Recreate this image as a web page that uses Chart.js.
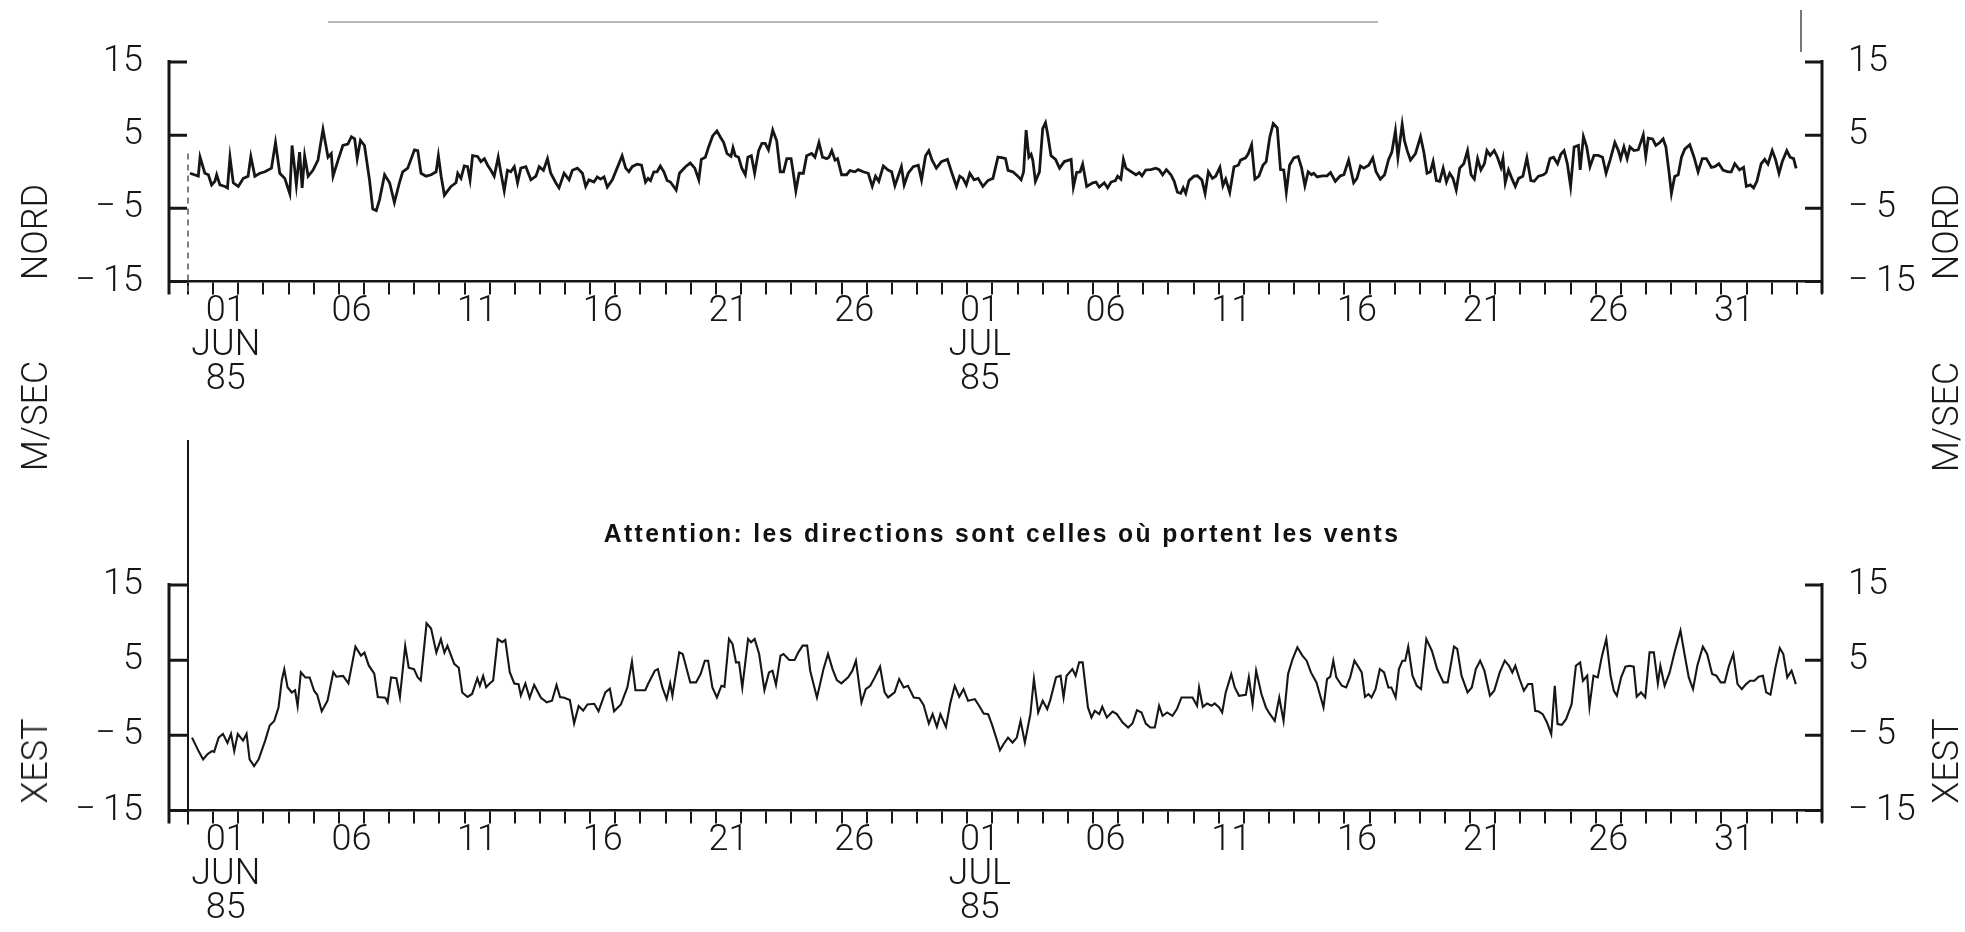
<!DOCTYPE html>
<html>
<head>
<meta charset="utf-8">
<title>NORD / XEST M/SEC</title>
<script src="https://cdn.jsdelivr.net/npm/chart.js@4.4.1/dist/chart.umd.min.js"></script>
<style>
  html, body { margin: 0; padding: 0; background: #fff; }
  body { width: 1965px; height: 932px; position: relative; overflow: hidden; font-family: Roboto, "Liberation Sans", sans-serif; }
  canvas { position: absolute; left: 0; }
  #nordChart { top: 0; }
  #xestChart { top: 440px; }
  .side { position: absolute; font-size: 36px; font-weight: 300; color: #1a1a1a; transform: translate(-50%, -50%) rotate(-90deg); white-space: nowrap; }
  .note { position: absolute; left: 1002px; top: 533px; transform: translate(-50%, -50%) scaleX(0.95); font: bold 26px "Liberation Sans", Arial, sans-serif; letter-spacing: 2.5px; white-space: nowrap; color: #111; z-index: 2; }
  .scan { position: absolute; background: #b8b8b8; }
</style>
</head>
<body>
<canvas id="nordChart" width="1965" height="440"></canvas>
<canvas id="xestChart" width="1965" height="492"></canvas>

<div class="side" style="left:35px;top:232px">NORD</div>
<div class="side" style="left:35px;top:416px">M/SEC</div>
<div class="side" style="left:35px;top:761px">XEST</div>
<div class="side" style="left:1946px;top:232px">NORD</div>
<div class="side" style="left:1946px;top:417px">M/SEC</div>
<div class="side" style="left:1946px;top:761px">XEST</div>
<div class="note">Attention: les directions sont celles où portent les vents</div>
<div class="scan" style="left:328px;top:21px;width:1050px;height:2px"></div>
<div class="scan" style="left:1800px;top:10px;width:2px;height:42px;background:#777"></div>

<script>
// x = days after 31 May 1985 00:00, y = m/s
const dayRange = [0, 65];
const yRange = [-15, 15];
const yTicks = [-15, -5, 5, 15];
const labelDays = [1, 6, 11, 16, 21, 26, 31, 36, 41, 46, 51, 56, 61];
const dayLabels = ['01', '06', '11', '16', '21', '26', '01', '06', '11', '16', '21', '26', '31'];
const monthLabels = ['JUN', '', '', '', '', '', 'JUL', '', '', '', '', '', ''];
const yearLabel = '85';

const nordObs = [
  [0.08,-0.2],[0.41,-0.6],[0.48,2.0],[0.67,-0.2],[0.81,-0.4],[0.94,-1.8],[1.07,-1.3],[1.14,-0.4],[1.27,-1.8],[1.47,-2.0],
  [1.57,-2.2],[1.67,2.0],[1.8,-1.5],[2.0,-2.0],[2.2,-0.9],[2.39,-0.6],[2.5,2.1],[2.66,-0.6],[2.86,-0.2],[3.06,0.0],
  [3.32,0.5],[3.48,4.0],[3.65,-0.2],[3.85,-0.9],[4.05,-3.0],[4.14,3.6],[4.25,0.2],[4.31,-1.8],[4.44,2.7],[4.54,-2.2],
  [4.64,2.2],[4.78,-0.6],[4.97,0.2],[5.17,1.6],[5.37,5.8],[5.57,2.0],[5.7,2.5],[5.77,-0.6],[5.97,1.6],[6.16,3.6],
  [6.36,3.8],[6.5,4.8],[6.63,4.5],[6.73,1.8],[6.86,4.3],[7.02,3.6],[7.22,-1.1],[7.35,-5.1],[7.49,-5.3],[7.62,-3.8],
  [7.82,-0.4],[8.02,-1.5],[8.21,-4.2],[8.41,-1.5],[8.54,0.0],[8.74,0.5],[9.01,3.0],[9.14,2.9],[9.27,-0.2],[9.47,-0.6],
  [9.67,-0.4],[9.87,0.0],[9.96,2.2],[10.07,-0.6],[10.2,-3.2],[10.46,-2.0],[10.66,-1.5],[10.73,-0.2],[10.86,-0.9],[10.99,0.8],
  [11.12,0.7],[11.22,-1.1],[11.32,2.2],[11.52,2.1],[11.65,1.4],[11.79,1.8],[11.92,0.9],[12.05,0.2],[12.18,-0.6],[12.34,2.0],
  [12.45,-0.2],[12.58,-2.6],[12.71,0.2],[12.84,0.0],[12.98,0.7],[13.11,-1.5],[13.24,0.5],[13.44,0.7],[13.64,-1.1],[13.84,-0.6],
  [13.97,0.7],[14.14,0.2],[14.3,1.8],[14.43,-0.2],[14.63,-1.5],[14.76,-2.2],[14.96,-0.2],[15.16,-1.1],[15.29,0.2],[15.49,0.5],
  [15.69,-0.2],[15.82,-2.0],[15.95,-1.1],
  [16.15,-1.4],[16.28,-0.7],[16.41,-1.0],[16.55,-0.7],[16.68,-2.1],[16.88,-1.1],[17.07,0.5],[17.27,2.2],[17.41,0.5],[17.54,0.0],
  [17.67,0.7],[17.87,1.05],[18.04,0.9],[18.2,-1.4],[18.3,-0.9],[18.4,-1.2],[18.53,0.0],[18.66,0.0],[18.79,0.8],[18.93,0.0],
  [19.06,-1.2],[19.19,-1.4],[19.42,-2.5],[19.55,-0.2],[19.79,0.7],[19.98,1.2],[20.16,0.5],[20.32,-1.1],[20.42,1.7],[20.58,2.0],
  [20.71,3.4],[20.87,4.9],[21.04,5.6],[21.17,4.8],[21.31,4.0],[21.44,2.5],[21.6,2.1],[21.68,3.3],[21.77,2.2],[21.9,2.0],
  [22.03,0.5],[22.17,-0.4],[22.27,2.0],[22.41,2.2],[22.54,-0.2],[22.7,2.9],[22.83,3.9],[22.96,3.9],[23.09,3.0],[23.26,5.7],
  [23.42,4.2],[23.56,0.0],[23.69,0.0],[23.82,1.8],[23.99,1.8],[24.08,-0.2],[24.18,-2.6],[24.31,-0.2],[24.48,-0.2],[24.61,2.2],
  [24.81,2.5],[24.94,2.0],[25.1,4.0],[25.24,2.0],[25.41,1.8],[25.5,2.0],[25.61,2.9],[25.74,1.6],[25.84,1.8],[26.0,-0.4],
  [26.2,-0.4],[26.33,0.16],[26.53,0.0],[26.66,0.3],[26.86,0.0],[27.06,-0.2],[27.22,-2.0],[27.35,-0.6],[27.48,-1.3],[27.66,0.8],
  [27.85,0.25],[27.99,0.0],[28.12,-1.9],[28.25,-0.6],[28.38,0.7],[28.49,-1.8],[28.65,-0.2],[28.85,0.7],[29.05,0.9],[29.18,-1.1],
  [29.34,2.2],[29.47,2.9],[29.6,1.6],[29.77,0.5],[29.97,1.4],[30.21,1.7],[30.37,0.0],[30.57,-2.0],[30.7,-0.6],[30.83,-0.9],
  [30.96,-1.8],[31.1,-0.2],[31.27,-1.1],[31.43,-0.9],[31.62,-2.0],[31.82,-1.2],
  [32.02,-0.9],[32.22,2.0],[32.42,1.9],[32.52,1.8],[32.62,0.2],[32.81,0.0],[33.01,-0.6],[33.14,-1.1],[33.24,0.0],[33.34,5.7],
  [33.45,2.0],[33.54,2.4],[33.61,1.5],[33.71,-1.3],[33.87,0.0],[34.0,5.9],[34.11,6.7],[34.2,5.1],[34.33,2.2],[34.51,1.7],
  [34.67,0.5],[34.86,1.4],[35.04,1.6],[35.13,1.7],[35.22,-2.1],[35.35,-0.1],[35.49,0.0],[35.59,1.05],[35.75,-2.0],[35.99,-1.5],
  [36.12,-1.4],[36.25,-2.1],[36.45,-1.5],[36.58,-2.2],[36.72,-1.4],[36.89,-1.2],[36.98,-0.6],[37.11,-1.0],[37.21,1.7],[37.31,0.5],
  [37.44,0.2],[37.71,-0.4],[37.84,-0.1],[37.95,-0.55],[38.1,0.25],[38.3,0.3],[38.5,0.5],[38.63,0.3],[38.77,-0.4],[38.92,0.3],
  [39.1,-0.4],[39.23,-1.3],[39.36,-2.8],[39.49,-2.95],[39.59,-2.2],[39.69,-2.95],[39.82,-1.2],[40.02,-0.6],[40.15,-0.55],[40.33,-1.1],
  [40.46,-2.95],[40.59,0.0],[40.75,-0.9],[40.88,-0.6],[41.05,0.6],[41.17,-1.9],[41.28,-1.0],[41.44,-2.8],[41.61,0.7],[41.78,0.9],
  [41.87,1.6],[42.07,1.9],[42.18,2.5],[42.31,3.7],[42.44,-1.0],[42.6,-0.6],[42.76,0.9],[42.89,1.4],[43.03,4.7],[43.17,6.6],
  [43.33,6.0],[43.46,0.3],[43.59,0.25],[43.69,-2.8],[43.82,0.9],[43.99,1.9],[44.16,2.1],[44.3,0.5],[44.43,-1.9],[44.56,0.0],
  [44.69,-0.4],[44.78,-0.2],[44.92,-0.7],[45.12,-0.55],[45.31,-0.55],[45.45,-0.1],[45.64,-1.3],[45.84,-0.55],[45.98,-0.4],[46.17,1.6],
  [46.37,-1.5],[46.5,-0.9],[46.64,0.8],[46.77,0.5],[46.97,0.9],[47.13,1.9],[47.26,0.0],[47.43,-1.0],[47.6,-0.4],[47.76,1.7],
  [47.89,2.7],[48.03,5.6],[48.13,2.0],
  [48.3,6.5],[48.39,4.25],[48.5,2.9],[48.63,1.6],[48.83,2.5],[49.03,4.8],[49.16,2.7],[49.29,-0.2],[49.42,0.0],[49.53,1.4],
  [49.66,-1.2],[49.79,-1.3],[49.93,0.5],[50.06,-1.4],[50.19,-0.2],[50.32,-0.9],[50.45,-2.5],[50.59,0.5],[50.75,1.1],[50.9,2.9],
  [51.04,-0.4],[51.17,-1.0],[51.3,1.8],[51.43,0.25],[51.57,1.1],[51.67,2.9],[51.8,2.25],[51.96,2.9],[52.09,2.0],[52.23,0.6],
  [52.31,1.8],[52.4,-1.5],[52.53,0.25],[52.66,-0.9],[52.8,-2.0],[52.93,-0.9],[53.1,-0.6],[53.26,1.9],[53.42,-1.2],[53.55,-1.3],
  [53.72,-0.6],[53.92,-0.4],[54.03,-0.1],[54.18,1.8],[54.32,2.0],[54.48,1.1],[54.61,2.4],[54.74,2.9],[54.87,1.1],[55.0,-2.0],
  [55.14,3.4],[55.31,3.6],[55.38,0.25],[55.51,4.8],[55.64,3.4],[55.77,0.7],[55.93,2.25],[56.1,2.25],[56.27,2.0],[56.41,-0.2],
  [56.57,1.6],[56.76,4.0],[56.9,2.9],[56.99,1.8],[57.12,3.4],[57.25,1.8],[57.36,3.4],[57.52,2.9],[57.69,3.0],[57.89,5.05],
  [57.99,2.1],[58.09,4.6],[58.26,4.5],[58.39,3.6],[58.55,4.0],[58.68,4.5],[58.79,3.4],[58.92,-0.2],[59.01,-2.95],[59.14,-0.64],
  [59.28,-0.42],[59.41,2.0],[59.54,3.1],[59.74,3.7],[59.91,2.0],[60.07,0.0],[60.24,1.8],[60.4,1.8],[60.6,0.6],[60.73,0.7],
  [60.9,1.1],[61.06,0.25],[61.26,0.0],[61.39,0.0],[61.53,1.1],[61.72,0.25],[61.88,0.6],[61.99,-2.0],[62.15,-1.8],[62.28,-2.2],
  [62.41,-1.3],[62.58,1.1],[62.72,1.7],[62.85,1.05],[63.02,2.9],[63.15,1.7],[63.29,-0.2],[63.42,1.4],[63.6,2.9],[63.73,2.0],
  [63.87,1.8],[63.97,0.47]
];

const xestObs = [
  [0.16,-5.3],[0.42,-7.1],[0.6,-8.2],[0.78,-7.5],[0.95,-7.1],[1.04,-7.2],[1.22,-5.3],[1.39,-4.8],[1.57,-6.0],[1.71,-4.8],
  [1.84,-7.1],[1.98,-4.8],[2.19,-5.7],[2.33,-4.8],[2.45,-8.2],[2.63,-9.1],[2.81,-8.2],[3.07,-5.7],[3.25,-3.7],[3.43,-3.1],
  [3.6,-1.3],[3.73,2.3],[3.83,3.8],[3.96,1.4],[4.13,0.7],[4.26,1.0],[4.36,-1.1],[4.49,3.4],[4.67,2.7],[4.84,2.7],
  [5.02,0.9],[5.14,0.4],[5.32,-1.8],[5.55,-0.4],[5.78,3.4],[5.9,2.8],[6.17,2.9],[6.38,1.9],[6.66,6.8],[6.88,5.6],
  [7.02,6.0],[7.19,4.3],[7.41,3.2],[7.55,0.1],[7.85,0.0],[7.94,-0.6],[8.08,2.7],[8.29,2.6],[8.43,0.1],[8.64,6.9],
  [8.78,4.0],[8.99,3.8],[9.14,2.7],[9.26,2.3],[9.49,9.9],[9.67,9.2],[9.88,6.0],[10.06,7.8],[10.2,6.0],[10.32,6.9],
  [10.59,4.5],[10.77,4.0],[10.91,0.7],[11.12,0.1],[11.3,0.5],[11.51,2.6],[11.61,1.6],[11.74,2.9],[11.86,1.4],[12.0,1.9],
  [12.14,2.3],[12.32,7.8],[12.5,7.4],[12.62,7.7],[12.8,3.4],[12.98,1.9],[13.15,1.8],[13.24,0.3],[13.42,1.9],[13.59,0.0],
  [13.77,1.7],[14.04,0.0],[14.27,-0.6],[14.48,-0.4],[14.66,1.7],[14.8,0.1],[14.97,0.0],[15.19,-0.3],[15.36,-3.4],[15.54,-1.1],
  [15.72,-1.7],[15.89,-0.9],[16.16,-0.8],[16.33,-1.8],[16.6,0.7],[16.78,1.2],[16.95,-1.8],[17.22,-0.9],[17.48,1.4],[17.66,4.8],
  [17.8,1.0],[18.19,1.0],
  [18.3,1.82],[18.57,3.6],[18.69,3.82],[18.87,1.37],[19.04,-0.18],[19.18,1.91],[19.27,0.26],[19.54,6.04],[19.68,5.82],[19.98,2.04],
  [20.21,2.04],[20.39,3.15],[20.56,4.93],[20.69,4.93],[20.86,1.37],[21.04,0.04],[21.22,1.6],[21.34,1.46],[21.52,7.82],[21.66,7.15],
  [21.8,4.71],[21.92,4.71],[22.05,1.37],[22.28,7.82],[22.4,7.37],[22.54,7.82],[22.72,5.82],[22.93,1.02],[23.11,3.37],[23.25,3.6],
  [23.39,1.73],[23.57,5.6],[23.69,5.82],[23.92,5.02],[24.13,5.02],[24.28,6.04],[24.45,6.93],[24.63,6.93],[24.75,3.6],[25.02,0.04],
  [25.28,3.82],[25.46,5.82],[25.64,3.82],[25.81,2.35],[25.99,1.91],[26.26,2.71],[26.43,3.6],[26.57,4.93],[26.79,-0.63],[26.96,1.15],
  [27.14,1.6],[27.32,2.71],[27.53,4.13],[27.71,0.71],[27.85,0.04],[28.11,0.71],[28.29,2.49],[28.47,1.37],[28.64,1.6],[28.87,0.04],
  [29.09,-0.05],[29.26,-0.94],[29.47,-3.43],[29.62,-2.18],[29.79,-3.87],[29.93,-2.18],[30.15,-3.87],[30.32,-0.76],[30.5,1.6],[30.68,0.13],
  [30.85,1.15],[31.03,-0.4],[31.3,-0.18],[31.47,-1.07],[31.65,-2.09],[31.83,-2.18],[32.0,-3.74],[32.18,-5.65],[32.3,-6.98],[32.44,-6.18],
  [32.62,-5.3],[32.8,-5.96],[32.97,-5.3],[33.12,-3.07],[33.29,-5.96],[33.51,-2.18],[33.65,2.49],[33.82,-1.96],[34.0,-0.4],[34.18,-1.51],
  [34.3,-0.31],[34.53,2.71],[34.71,2.93],[34.83,0.04],[34.95,2.93],[35.18,3.82],[35.31,2.93],[35.45,4.71],[35.59,4.71],[35.8,-1.29],
  [35.94,-2.62],[36.07,-1.74],[36.25,-2.18],[36.37,-1.2],[36.55,-2.62],[36.78,-1.83],[36.95,-2.18],[37.18,-3.29],[37.4,-3.96],[37.57,-3.43],
  [37.75,-1.65],[37.93,-1.96],[38.1,-3.43],[38.28,-3.96],[38.46,-3.96],[38.63,-1.07],[38.77,-2.4],[38.95,-1.96],[39.16,-2.4],[39.34,-1.51],
  [39.52,0.04],[39.69,0.04],[39.96,0.04],[40.14,-1.07],[40.22,1.37],[40.37,-1.2],[40.54,-0.76],[40.72,-1.07],[40.84,-0.76],[41.02,-1.29],
  [41.14,-1.96],[41.28,0.71],[41.5,3.15],[41.64,1.37],[41.81,0.26],[42.08,0.4],[42.2,2.71],[42.35,-0.85],[42.49,3.6],[42.7,0.49],
  [42.88,-1.29],[43.02,-2.09],[43.23,-3.07],[43.41,0.04],[43.58,-3.07],[43.76,3.15],[43.94,5.15],
  [44.13,6.71],[44.33,5.6],[44.5,4.93],[44.67,3.37],[44.89,2.04],[45.06,0.04],[45.17,-1.29],[45.31,2.49],[45.44,2.8],[45.56,4.93],
  [45.68,2.71],[45.9,1.6],[46.07,1.37],[46.23,2.71],[46.4,4.93],[46.57,4.04],[46.69,3.37],[46.82,0.13],[46.96,0.49],[47.08,0.04],
  [47.24,1.15],[47.41,3.82],[47.58,3.37],[47.75,1.37],[47.87,1.37],[48.04,0.04],[48.17,3.82],[48.31,4.93],[48.42,4.93],[48.54,6.8],
  [48.71,2.93],[48.88,1.6],[49.05,1.15],[49.26,7.82],[49.48,6.26],[49.69,3.82],[49.94,2.04],[50.11,2.04],[50.36,6.8],[50.49,6.49],
  [50.66,2.93],[50.9,0.71],[51.07,1.37],[51.23,3.82],[51.4,4.93],[51.57,3.6],[51.79,0.26],[51.96,0.93],[52.18,3.37],[52.38,4.93],
  [52.55,4.26],[52.68,3.37],[52.8,4.26],[52.97,2.49],[53.14,0.93],[53.31,1.82],[53.47,1.82],[53.59,-1.74],[53.73,-1.83],[53.89,-2.18],
  [54.06,-3.29],[54.23,-4.85],[54.37,1.6],[54.48,-3.51],[54.65,-3.6],[54.82,-2.85],[55.04,-0.85],[55.21,4.26],[55.38,4.71],[55.49,2.26],
  [55.66,2.93],[55.75,-1.2],[55.91,2.93],[56.08,2.71],[56.25,5.6],[56.42,7.82],[56.59,2.93],[56.72,0.93],[56.84,0.26],[57.01,2.71],
  [57.18,4.13],[57.35,4.26],[57.51,4.13],[57.63,0.13],[57.8,0.71],[57.97,0.04],[58.14,6.04],[58.31,6.04],[58.47,1.91],[58.57,4.26],
  [58.74,1.6],[58.94,3.37],[59.15,6.26],[59.37,8.93],[59.53,5.82],[59.7,2.71],[59.87,1.15],[60.04,4.26],[60.26,6.8],[60.43,5.82],
  [60.63,3.15],[60.8,2.93],[60.97,2.04],[61.13,2.04],[61.3,4.26],[61.47,5.82],[61.64,1.82],[61.81,1.15],[61.98,1.82],[62.14,2.26],
  [62.31,2.26],[62.48,2.8],[62.65,2.93],[62.78,0.71],[62.95,0.4],[63.15,4.04],[63.32,6.62],[63.46,5.82],[63.62,2.71],[63.79,3.6],
  [63.96,1.82]
];

// one tick mark per day (midnight), labels sit at noon of the labelled days
const tickValues = [];
for (let d = dayRange[0]; d <= dayRange[1]; d++) {
  tickValues.push(d);
  if (labelDays.includes(d)) tickValues.push(d + 0.5);
}

const INK = '#161616';
const tickFont = { family: 'Roboto, "Liberation Sans", sans-serif', size: 36, weight: '300', lineHeight: 0.95 };

function dayLabel(value) {
  const i = labelDays.indexOf(value - 0.5);
  if (i < 0) return '';
  return monthLabels[i] ? [dayLabels[i], monthLabels[i], yearLabel] : dayLabels[i];
}

function valueLabel(value) {
  return value < 0 ? '\u2212\u2009' + Math.abs(value) : String(value);
}

// axis lines sit a little outside the plot, with inward tick marks (old plotter style)
const framePlugin = {
  id: 'frame',
  afterDraw(chart, args, opts) {
    const { ctx, chartArea: a, scales } = chart;
    const y = scales.yL;
    const top = y.getPixelForValue(yRange[1]);
    const bot = y.getPixelForValue(yRange[0]);
    const lx = a.left - 19;
    const rx = a.right;
    ctx.save();
    ctx.strokeStyle = INK;
    ctx.lineWidth = 3;
    ctx.beginPath();
    ctx.moveTo(lx, top - 2); ctx.lineTo(lx, bot + 13);
    ctx.moveTo(rx, top - 2); ctx.lineTo(rx, bot + 12);
    yTicks.forEach(v => {
      const p = y.getPixelForValue(v);
      ctx.moveTo(lx, p); ctx.lineTo(lx + 18, p);
      ctx.moveTo(rx - 17, p); ctx.lineTo(rx, p);
    });
    ctx.stroke();

    // inner left edge line
    ctx.beginPath();
    if (opts.edge === 'dashed') {
      ctx.lineWidth = 1.5;
      ctx.strokeStyle = '#555';
      ctx.setLineDash([6, 5]);
      ctx.moveTo(a.left, y.getPixelForValue(2.5));
    } else {
      ctx.lineWidth = 2;
      ctx.moveTo(a.left, 0);
    }
    ctx.lineTo(a.left, bot + 14);
    ctx.stroke();
    ctx.restore();
  }
};

function buildPanel(id, points, padTop, xHeight, lineWidth, edge) {
  const yAxis = (position, padding, width) => ({
    type: 'linear',
    position: position,
    min: yRange[0],
    max: yRange[1],
    afterBuildTicks: s => { s.ticks = yTicks.map(v => ({ value: v })); },
    afterFit: s => { s.width = width; },
    ticks: { callback: valueLabel, font: tickFont, color: INK, padding: padding },
    grid: { display: true, drawOnChartArea: false, drawTicks: false },
    border: { display: false }
  });

  return new Chart(document.getElementById(id), {
    type: 'line',
    data: {
      datasets: [{
        data: points.map(p => ({ x: p[0], y: p[1] })),
        borderColor: INK,
        borderWidth: lineWidth,
        pointRadius: 0,
        tension: 0,
        fill: false,
        yAxisID: 'yL'
      }]
    },
    options: {
      responsive: false,
      animation: false,
      devicePixelRatio: 1,
      layout: { padding: { top: padTop, left: 0, right: 0, bottom: 0 } },
      plugins: { legend: { display: false }, tooltip: { enabled: false }, frame: { edge: edge } },
      scales: {
        x: {
          type: 'linear',
          min: dayRange[0],
          max: dayRange[1],
          afterBuildTicks: s => { s.ticks = tickValues.map(v => ({ value: v })); },
          afterFit: s => { s.height = xHeight; },
          ticks: { callback: dayLabel, autoSkip: false, maxRotation: 0, minRotation: 0, font: tickFont, color: INK, padding: 0 },
          grid: {
            drawOnChartArea: false,
            tickLength: 13,
            lineWidth: 2,
            color: c => Number.isInteger(c.tick.value) ? INK : 'rgba(0,0,0,0)'
          },
          border: { display: true, color: INK, width: 2.5 }
        },
        yL: yAxis('left', 45, 188),
        yR: yAxis('right', 26, 143)
      }
    },
    plugins: [framePlugin]
  });
}

buildPanel('nordChart', nordObs, 56.5, 158.5, 2.8, 'dashed');
buildPanel('xestChart', xestObs, 145, 121.5, 2.1, 'solid');
</script>
</body>
</html>
